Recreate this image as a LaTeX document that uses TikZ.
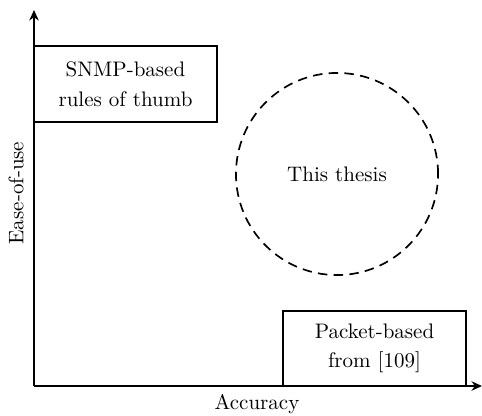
\documentclass[tikz,border=0pt]{standalone}
\usetikzlibrary{positioning,arrows.meta}
\tikzset{every path/.style={line width=.8pt}}
\tikzset{method/.style={draw, rectangle, minimum width=3.05cm, minimum height=1.26cm, align=center, inner sep=0pt}}
\tikzset{axis/.style={line width=1.1pt, -{Stealth[length=5pt, width=4.5pt]}}}

\begin{document}
\begin{tikzpicture}[x=0.01673cm, y=-0.01673cm]
\useasboundingbox (0,0) rectangle (482,415);

\coordinate (origin) at (34,386);
\coordinate (ytop) at (34,10);
\coordinate (xend) at (482,386);

\node[method] (snmp) at (125.5,84) {SNMP-based\\[2pt]rules of thumb};
\node[method] (packet) at (374.5,348.5) {Packet-based\\[2pt]from [109]};
\node[draw, circle, dash pattern=on 4.5pt off 3pt, minimum size=3.38cm, inner sep=0pt] (thesis) at (337,174) {This thesis};

\draw[axis] (origin) -- (ytop);
\draw[axis] (origin) -- (xend);
\node at (257,404) (xlabel) {Accuracy};
\node[rotate=90] at (16,193) (ylabel) {Ease-of-use};
\end{tikzpicture}
\end{document}
